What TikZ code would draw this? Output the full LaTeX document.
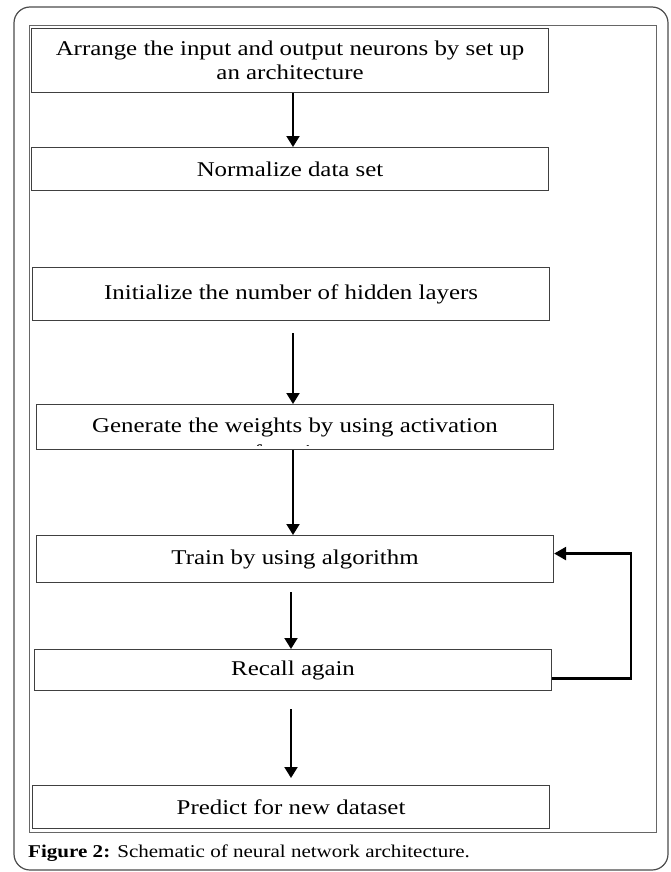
\documentclass[tikz,border=0pt]{standalone}
\usepackage{fontspec}
\setmainfont{Liberation Serif}
\newfontfamily\boxfont[FakeStretch=1.185]{Liberation Serif}
\newfontfamily\capfont[FakeStretch=1.17]{Liberation Serif}
\usetikzlibrary{arrows.meta}
\begin{document}
\begin{tikzpicture}[x=1pt,y=-1pt,
  box/.style={draw=black!75,line width=1.1pt,rectangle,inner sep=0pt,anchor=north west,
    font=\boxfont\fontsize{21}{24}\selectfont,align=center},
  arr/.style={draw=black,line width=2pt,-{Triangle[length=11pt,width=13pt]}},
  loop/.style={draw=black,line width=2.4pt,-{Triangle[length=12pt,width=13pt]}}]
\useasboundingbox (0,0) rectangle (671,872);
\draw[black!70,line width=1.2pt,rounded corners=16pt] (14,7) rectangle (668,870);
\draw[black!60,line width=1pt] (29,26) rectangle (656,832);

\node[box,minimum width=517pt,minimum height=64pt] (arr1) at (31,28)
  {Arrange the input and output neurons by set up\\an architecture};
\node[box,minimum width=517pt,minimum height=43pt] (norm) at (31,147) {Normalize data set};
\node[box,minimum width=517pt,minimum height=53pt] (init) at (32,267) {\raisebox{3pt}{Initialize the number of hidden layers}};
\node[box,minimum width=517pt,minimum height=45pt] (gen) at (36,404) {Generate the weights by using activation};
\node[box,minimum width=517pt,minimum height=47pt] (train) at (36,535) {Train by using algorithm};
\node[box,minimum width=517pt,minimum height=41pt] (rec) at (34,649) {Recall again};
\node[box,minimum width=517pt,minimum height=43pt] (pred) at (32,785) {Predict for new dataset};

\begin{scope}
  \clip (gen.north west) rectangle ([yshift=5pt]gen.south east);
  \node[anchor=base,font=\boxfont\fontsize{21}{24}\selectfont,inner sep=0pt] (fn) at ([yshift=-9.5pt]gen.south) {function};
\end{scope}

\coordinate (xa) at (293,0);
\coordinate (xb) at (291,0);
\coordinate (lx) at (631,0);

\draw[arr] (arr1.south -| xa) -- (norm.north -| xa);
\draw[arr,shorten <=12pt] (init.south -| xa) -- (gen.north -| xa);
\draw[arr] (gen.south -| xa) -- (train.north -| xa);
\draw[arr,shorten <=9pt] (train.south -| xb) -- (rec.north -| xb);
\draw[arr,shorten <=18pt,shorten >=7pt] (rec.south -| xb) -- (pred.north -| xb);

\coordinate (tin) at ([yshift=5.5pt]train.east);
\draw[loop] ([yshift=-8.5pt]rec.east) -| (lx |- tin) -- (tin);

\node[anchor=base west,inner sep=0pt,font=\capfont\fontsize{18}{21}\selectfont] (cap) at (28,857)
  {\textbf{Figure 2:} Schematic of neural network architecture.};
\end{tikzpicture}
\end{document}
